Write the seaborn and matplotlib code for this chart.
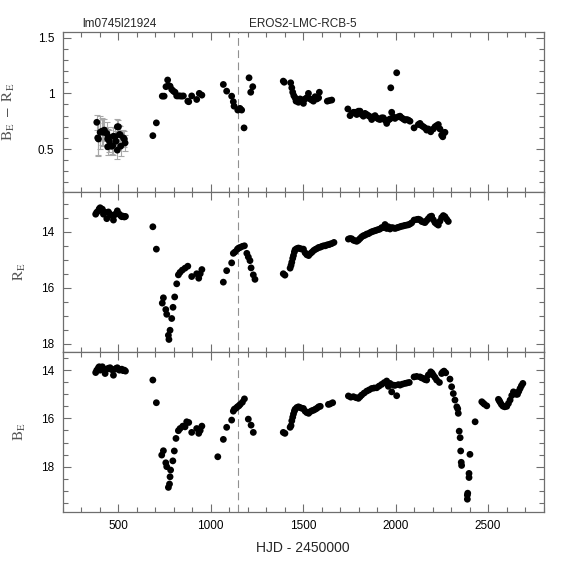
import numpy as np
import pandas as pd
import matplotlib
matplotlib.use("Agg")
import matplotlib.pyplot as plt
import seaborn as sns
from matplotlib.ticker import MultipleLocator

# ---------------- data ----------------
title_left = "lm0745l21924"
title_center = "EROS2-LMC-RCB-5"
xlabel = "HJD - 2450000"
ylabels = [r"$\mathrm{B_E\ -\ R_E}$", r"$\mathrm{R_E}$", r"$\mathrm{B_E}$"]
dashed_hjd = 1150

# colour B_E - R_E (first group has visible error bars)
color_hjd = [385, 390, 394, 403, 412, 420, 426, 439, 444, 444,
             448, 453, 466, 471, 475, 484, 489, 496, 496, 502,
             507, 511, 514, 529, 534, 538,
             688, 707, 739, 749, 759, 768, 772, 781, 790, 799,
             808, 817, 826, 835, 844, 853, 877, 882, 898, 925,
             939, 953,
             1069, 1087, 1114, 1123, 1127, 1147, 1159, 1168, 1181, 1208, 1217, 1228,
             1393, 1398, 1433, 1439, 1444, 1450, 1457, 1462, 1466, 1475,
             1484, 1493, 1502, 1511, 1520, 1529, 1538, 1547, 1556, 1565,
             1575, 1584, 1588, 1631, 1642, 1655,
             1742, 1754, 1763, 1772, 1781, 1790, 1799, 1808, 1817, 1826,
             1835, 1844, 1853, 1862, 1871, 1880, 1889, 1898, 1907, 1916,
             1925, 1934, 1943, 1952, 1961, 1970, 1974, 1979, 1988, 1997,
             2006, 2015, 2024, 2033, 2042, 2051, 2060, 2069, 2078, 2100,
             2123, 2132, 2141, 2150, 2159, 2168, 2177, 2190, 2204, 2213,
             2222, 2231, 2240, 2249, 2255, 2262, 2267]
color_val = [0.74, 0.60, 0.59, 0.65, 0.66, 0.65, 0.67, 0.64, 0.59, 0.52,
             0.61, 0.57, 0.525, 0.53, 0.615, 0.61, 0.57, 0.49, 0.70, 0.70,
             0.63, 0.63, 0.525, 0.60, 0.59, 0.555,
             0.62, 0.735, 0.975, 0.975, 1.06, 1.12, 1.07, 1.065, 1.035, 1.02,
             1.01, 0.977, 0.977, 0.977, 0.975, 0.977, 0.93, 0.925, 0.977, 0.945,
             1.0, 0.984,
             1.08, 1.02, 0.975, 0.925, 0.885, 0.85, 0.865, 0.85, 0.69, 1.14, 1.01, 1.06,
             1.11, 1.10, 1.095, 1.05, 1.01, 0.98, 0.96, 0.93, 0.94, 0.92,
             0.95, 0.94, 0.91, 0.95, 0.96, 1.0, 0.95, 0.94, 0.93, 0.97,
             0.95, 0.96, 1.01, 0.93, 0.935, 0.94,
             0.86, 0.80, 0.82, 0.83, 0.83, 0.81, 0.84, 0.84, 0.81, 0.795,
             0.82, 0.81, 0.80, 0.79, 0.765, 0.79, 0.80, 0.78, 0.77, 0.765,
             0.78, 0.78, 0.76, 0.73, 0.76, 0.77, 1.05, 0.83, 0.79, 0.775,
             1.185, 0.79, 0.795, 0.78, 0.77, 0.76, 0.765, 0.76, 0.75, 0.69,
             0.72, 0.73, 0.71, 0.70, 0.69, 0.67, 0.68, 0.655, 0.68, 0.70,
             0.71, 0.72, 0.68, 0.625, 0.61, 0.645, 0.65]
color_err_hjd = color_hjd[:26]
color_err_val = color_val[:26]
color_err = [0.07, 0.16, 0.14, 0.15, 0.12, 0.12, 0.10, 0.10, 0.09, 0.07,
             0.09, 0.10, 0.07, 0.08, 0.08, 0.08, 0.09, 0.08, 0.07, 0.06,
             0.09, 0.08, 0.09, 0.07, 0.07, 0.07]

# R_E magnitude
r_hjd = [379, 385, 394, 398, 403, 410, 415, 421, 430, 439,
         448, 457, 466, 475, 480, 489, 496, 507, 514, 520,
         527, 534, 540,
         688, 707, 739, 745, 758, 763, 772, 775, 781, 790,
         797, 806, 817, 826, 835, 847, 862, 877, 898, 925,
         936, 944, 953,
         1069, 1087, 1114, 1123, 1132, 1145, 1152, 1160, 1172, 1183,
         1196, 1204, 1213, 1219, 1231, 1240,
         1393, 1402, 1430, 1435, 1439, 1444, 1448, 1453, 1457, 1466,
         1475, 1484, 1493, 1502, 1511, 1520, 1530, 1539, 1548, 1557,
         1566, 1575, 1584, 1593, 1602, 1611, 1620, 1629, 1638, 1646,
         1655, 1667,
         1745, 1754, 1763, 1772, 1781, 1790, 1799, 1808, 1817, 1826,
         1835, 1844, 1853, 1862, 1871, 1880, 1889, 1898, 1907, 1916,
         1925, 1934, 1943, 1952, 1961, 1970, 1979, 1988, 1997, 2006,
         2015, 2024, 2033, 2042, 2051, 2060, 2069, 2078, 2087, 2100,
         2114, 2123, 2132, 2141, 2150, 2159, 2168, 2177, 2186, 2195,
         2204, 2213, 2222, 2231, 2240, 2249, 2258, 2267, 2276, 2285]
r_mag = [13.37, 13.30, 13.25, 13.18, 13.14, 13.22, 13.19, 13.37, 13.30, 13.53,
         13.29, 13.37, 13.42, 13.58, 13.40, 13.35, 13.25, 13.37, 13.42, 13.46,
         13.44, 13.47, 13.45,
         13.82, 14.62, 16.55, 16.36, 16.78, 16.95, 17.70, 17.85, 17.52, 17.10,
         16.70, 16.33, 15.86, 15.54, 15.45, 15.37, 15.30, 15.23, 15.60, 15.50,
         15.66, 15.50, 15.35,
         15.80, 15.39, 15.11, 14.77, 14.72, 14.62, 14.58, 14.56, 14.52, 14.50,
         14.77, 14.90, 15.03, 15.29, 15.54, 15.70,
         15.50, 15.55, 15.30, 15.20, 15.09, 14.95, 14.85, 14.72, 14.64, 14.60,
         14.58, 14.60, 14.62, 14.62, 14.75, 14.82, 14.85, 14.78, 14.73, 14.67,
         14.63, 14.60, 14.56, 14.55, 14.52, 14.50, 14.50, 14.47, 14.46, 14.44,
         14.42, 14.38,
         14.26, 14.24, 14.25, 14.30, 14.32, 14.34, 14.30, 14.24, 14.18, 14.14,
         14.12, 14.08, 14.07, 14.03, 14.00, 13.98, 13.96, 13.94, 13.92, 13.90,
         13.85, 13.85, 13.74, 13.88, 13.82, 13.90, 13.85, 13.86, 13.88, 13.86,
         13.84, 13.82, 13.80, 13.79, 13.77, 13.76, 13.75, 13.72, 13.68, 13.58,
         13.56, 13.55, 13.57, 13.63, 13.65, 13.67, 13.60, 13.53, 13.46, 13.44,
         13.57, 13.67, 13.72, 13.76, 13.62, 13.49, 13.42, 13.46, 13.55, 13.63]

# B_E magnitude
b_hjd = [379, 385, 394, 398, 403, 410, 415, 421, 430, 439,
         448, 457, 466, 475, 484, 489, 496, 507, 514, 520,
         527, 534, 540,
         688, 707, 736, 745, 758, 763, 772, 778, 781, 784,
         796, 804, 813, 826, 835, 850, 862, 871, 882, 898,
         925, 936, 944, 953,
         1039, 1069, 1087, 1114, 1123, 1128, 1137, 1145, 1153, 1160,
         1172, 1183, 1204, 1219, 1231,
         1393, 1402, 1430, 1435, 1439, 1444, 1448, 1453, 1457, 1466,
         1475, 1484, 1493, 1502, 1511, 1520, 1530, 1539, 1548, 1557,
         1566, 1575, 1584, 1593, 1637, 1646, 1660,
         1745, 1758, 1772, 1786, 1799, 1808, 1817, 1830, 1844, 1857,
         1871, 1884, 1898, 1911, 1925, 1938, 1952, 1961, 1970, 1979,
         1988, 1997, 2006, 2015, 2024, 2037, 2051, 2062, 2074, 2100,
         2114, 2132, 2141, 2150, 2159, 2168, 2177, 2190, 2197, 2204,
         2213, 2222, 2237, 2249, 2255, 2262, 2271,
         2294, 2303, 2312, 2321, 2331, 2336, 2339, 2344, 2349, 2352,
         2355, 2357, 2388, 2388, 2390, 2397, 2397, 2402, 2430, 2466,
         2473, 2480, 2493, 2556, 2561, 2565, 2572, 2580, 2590, 2601,
         2610, 2619, 2628, 2637, 2646, 2652, 2659, 2666, 2673, 2680,
         2688]
b_mag = [14.10, 14.00, 13.90, 13.86, 14.00, 13.92, 13.86, 13.95, 14.14, 13.96,
         13.92, 13.90, 13.98, 14.21, 13.96, 13.93, 13.90, 14.00, 13.98, 13.96,
         14.02, 14.00, 14.04,
         14.41, 15.35, 17.52, 17.34, 17.84, 18.00, 18.86, 18.72, 18.42, 18.14,
         17.76, 17.35, 16.83, 16.51, 16.42, 16.32, 16.35, 16.14, 16.17, 16.58,
         16.42, 16.62, 16.50, 16.32,
         17.59, 16.87, 16.37, 16.07, 15.70, 15.62, 15.58, 15.52, 15.48, 15.42,
         15.33, 15.19, 16.03, 16.28, 16.58,
         16.58, 16.62, 16.37, 16.30, 16.10, 15.95, 15.82, 15.70, 15.62, 15.55,
         15.52, 15.55, 15.58, 15.59, 15.70, 15.76, 15.79, 15.72, 15.68, 15.66,
         15.62, 15.58, 15.52, 15.50, 15.42, 15.40, 15.35,
         15.07, 15.12, 15.10, 15.14, 15.17, 15.10, 15.03, 14.95, 14.87, 14.82,
         14.76, 14.74, 14.73, 14.66, 14.59, 14.52, 14.45, 14.67, 14.55, 14.90,
         14.62, 14.63, 15.06, 14.60, 14.62, 14.58, 14.55, 14.53, 14.51, 14.28,
         14.26, 14.28, 14.32, 14.34, 14.39, 14.41, 14.20, 14.07, 14.12, 14.21,
         14.30, 14.41, 14.51, 14.14, 14.08, 14.04, 14.11,
         14.37, 14.69, 14.97, 15.24, 15.52, 15.60, 15.79, 16.53, 16.80, 17.35,
         17.82, 17.95, 19.18, 19.35, 19.10, 18.28, 18.45, 17.49, 16.14, 15.31,
         15.36, 15.41, 15.48, 15.21, 15.27, 15.33, 15.42, 15.49, 15.52, 15.50,
         15.38, 15.24, 15.05, 14.90, 14.95, 15.00, 15.00, 14.88, 14.76, 14.65,
         14.55]

assert len(color_hjd) == len(color_val)
assert len(r_hjd) == len(r_mag)
assert len(b_hjd) == len(b_mag)

df_c = pd.DataFrame({"hjd": color_hjd, "val": color_val})
df_r = pd.DataFrame({"hjd": r_hjd, "val": r_mag})
df_b = pd.DataFrame({"hjd": b_hjd, "val": b_mag})

# ---------------- styling ----------------
sns.set_style("ticks")
plt.rcParams["font.family"] = ["Liberation Sans", "DejaVu Sans"]
plt.rcParams["mathtext.fontset"] = "stix"

grey = "#6e6e6e"
fig = plt.figure(figsize=(5.74, 5.74), dpi=100)
gs = fig.add_gridspec(3, 1, left=0.109, right=0.947, top=0.944, bottom=0.108, hspace=0)
axes = [fig.add_subplot(gs[i]) for i in range(3)]

ax = axes[0]
ax.errorbar(color_err_hjd, color_err_val, yerr=color_err, fmt="none",
            ecolor="#a8a8a8", elinewidth=0.8, capsize=2.2, capthick=0.8, zorder=1)
for a, df in zip(axes, [df_c, df_r, df_b]):
    sns.scatterplot(data=df, x="hjd", y="val", ax=a, color="black", s=24,
                    edgecolor="none", linewidth=0, zorder=3, legend=False)

ylims = [(0.113, 1.55), (18.3, 12.58), (19.88, 13.25)]
ymaj = [0.5, 2, 2]
ymin = [0.1, 0.5, 0.5]
ylab_x = [-0.095, -0.072, -0.072]
for i, a in enumerate(axes):
    a.set_xlim(200, 2800)
    a.set_ylim(*ylims[i])
    a.xaxis.set_major_locator(MultipleLocator(500))
    a.xaxis.set_minor_locator(MultipleLocator(100))
    a.yaxis.set_major_locator(MultipleLocator(ymaj[i]))
    a.yaxis.set_minor_locator(MultipleLocator(ymin[i]))
    a.tick_params(which="both", direction="in", top=True, right=True,
                  bottom=True, left=True, color=grey, width=0.8,
                  labelsize=8.5, pad=6, labelcolor="black")
    a.tick_params(which="major", length=6)
    a.tick_params(which="minor", length=3.5)
    for s in a.spines.values():
        s.set_color(grey)
        s.set_linewidth(0.9)
    a.axvline(dashed_hjd, color="#909090", lw=0.8, ls=(0, (7, 4)), zorder=0)
    a.set_ylabel(ylabels[i], fontsize=11, color="#555555")
    a.yaxis.set_label_coords(ylab_x[i], 0.5)
    if i < 2:
        a.tick_params(labelbottom=False)
        a.set_xlabel("")
    else:
        a.set_xlabel(xlabel, fontsize=10, labelpad=6)

axes[0].set_yticks([0.5, 1.0, 1.5])
axes[0].set_yticklabels(["0.5", "1", "1.5"])

fig.text(82 / 574, 1 - 27 / 574, title_left, ha="left", va="baseline", fontsize=8.5)
fig.text(303 / 574, 1 - 27 / 574, title_center, ha="center", va="baseline", fontsize=8.5)

fig.savefig("out.png", dpi=100)
